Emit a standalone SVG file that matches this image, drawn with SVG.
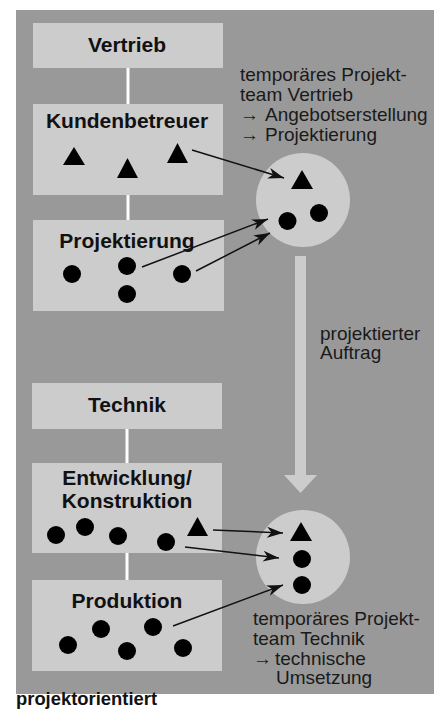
<svg xmlns="http://www.w3.org/2000/svg" width="438" height="714" viewBox="0 0 438 714">
  <style>
    .panel { fill: #999999; }
    .box { fill: #cccccc; }
    .team { fill: #cccccc; }
    .link { stroke: #ffffff; stroke-width: 3; }
    .flow { stroke: #111111; stroke-width: 1.5; fill: none; marker-end: url(#head); }
    .title { font-family: "Liberation Sans", Arial, sans-serif; font-weight: bold; font-size: 21px; fill: #111111; text-anchor: middle; }
    .note { font-family: "Liberation Sans", Arial, sans-serif; font-size: 19px; fill: #1a1a1a; }
    .arr { font-weight: bold; }
    .caption { font-family: "Liberation Sans", Arial, sans-serif; font-weight: bold; font-size: 18.4px; fill: #111111; }
    .m { fill: #000000; }
  </style>
  <defs>
    <marker id="head" markerUnits="userSpaceOnUse" markerWidth="17" markerHeight="12" viewBox="-16 -6 17 12" refX="0" refY="0" orient="auto">
      <path d="M0,0 L-16,-5.5 L-11.5,0 L-16,5.5 Z" fill="#111111"/>
    </marker>
  </defs>

  <!-- background panel -->
  <rect class="panel" x="16" y="10" width="418" height="684"/>

  <!-- white hierarchy links -->
  <g id="links">
    <line class="link" x1="128" y1="68" x2="128" y2="104"/>
    <line class="link" x1="128" y1="195" x2="128" y2="220"/>
    <line class="link" x1="127" y1="429" x2="127" y2="463"/>
    <line class="link" x1="127" y1="553" x2="127" y2="580"/>
  </g>

  <!-- Vertrieb -->
  <g id="vertrieb">
    <rect class="box" x="33" y="23" width="190" height="45"/>
    <text class="title" x="127" y="52">Vertrieb</text>
  </g>

  <g id="kundenbetreuer">
    <rect class="box" x="33" y="104" width="190" height="91"/>
    <text class="title" x="127" y="128">Kundenbetreuer</text>
    <polygon class="m" points="74,147 63,165 85,165"/>
    <polygon class="m" points="127.5,158 117,178 138,178"/>
    <polygon class="m" points="177.5,143 167,163 188,163"/>
  </g>

  <g id="projektierung">
    <rect class="box" x="33" y="220" width="191" height="91"/>
    <text class="title" x="127" y="248">Projektierung</text>
    <circle class="m" cx="72" cy="274" r="9"/>
    <circle class="m" cx="127" cy="266" r="9"/>
    <circle class="m" cx="182" cy="274" r="9"/>
    <circle class="m" cx="127" cy="294" r="9"/>
  </g>

  <!-- Technik -->
  <g id="technik">
    <rect class="box" x="32" y="383" width="190" height="46"/>
    <text class="title" x="127" y="412">Technik</text>
  </g>

  <g id="entwicklung">
    <rect class="box" x="32" y="463" width="190" height="90"/>
    <text class="title" x="127" y="485">Entwicklung/</text>
    <text class="title" x="127" y="508">Konstruktion</text>
    <circle class="m" cx="56" cy="535" r="9"/>
    <circle class="m" cx="85" cy="527" r="9"/>
    <circle class="m" cx="118" cy="536" r="9"/>
    <circle class="m" cx="166" cy="542" r="9"/>
    <polygon class="m" points="197.5,517 187,536 208,536"/>
  </g>

  <g id="produktion">
    <rect class="box" x="32" y="580" width="190" height="91"/>
    <text class="title" x="127" y="608">Produktion</text>
    <circle class="m" cx="68" cy="645" r="9"/>
    <circle class="m" cx="101" cy="629" r="9"/>
    <circle class="m" cx="127" cy="651" r="9"/>
    <circle class="m" cx="153" cy="627" r="9"/>
    <circle class="m" cx="183" cy="648" r="9"/>
  </g>

  <!-- temporary project team: sales -->
  <g id="team-vertrieb">
    <circle class="team" cx="303" cy="200" r="47"/>
    <polygon class="m" points="302,170 291,189 313,189"/>
    <circle class="m" cx="287.5" cy="221" r="9"/>
    <circle class="m" cx="319" cy="213" r="9"/>
    <text class="note" x="240" y="81">temporäres Projekt-</text>
    <text class="note" x="240" y="101">team Vertrieb</text>
    <text class="note" y="121"><tspan class="arr" x="240">→</tspan><tspan x="265">Angebotserstellung</tspan></text>
    <text class="note" y="141"><tspan class="arr" x="240">→</tspan><tspan x="265">Projektierung</tspan></text>
  </g>

  <!-- handover to engineering -->
  <g id="auftrag">
    <rect class="team" x="295" y="256" width="11" height="220"/>
    <polygon class="team" points="284,475 317,475 300.5,493"/>
    <text class="note" x="320" y="340">projektierter</text>
    <text class="note" x="320" y="359">Auftrag</text>
  </g>

  <!-- temporary project team: engineering -->
  <g id="team-technik">
    <circle class="team" cx="303" cy="557" r="47"/>
    <polygon class="m" points="301,522 290,541 312,541"/>
    <circle class="m" cx="302" cy="559" r="9"/>
    <circle class="m" cx="302" cy="585" r="9"/>
    <text class="note" x="253" y="625">temporäres Projekt-</text>
    <text class="note" x="253" y="645">team Technik</text>
    <text class="note" y="665"><tspan class="arr" x="253">→</tspan><tspan x="275">technische</tspan></text>
    <text class="note" x="276" y="684">Umsetzung</text>
  </g>

  <!-- staff assignment arrows -->
  <g id="connectors">
    <line class="flow" x1="192" y1="150" x2="284" y2="178"/>
    <line class="flow" x1="142" y1="267" x2="268" y2="219"/>
    <line class="flow" x1="196" y1="271" x2="270" y2="233"/>
    <line class="flow" x1="213" y1="530" x2="283" y2="533"/>
    <line class="flow" x1="185" y1="547" x2="279" y2="558"/>
    <line class="flow" x1="173" y1="626" x2="283" y2="585"/>
  </g>

  <text class="caption" x="16" y="705">projektorientiert</text>
</svg>
